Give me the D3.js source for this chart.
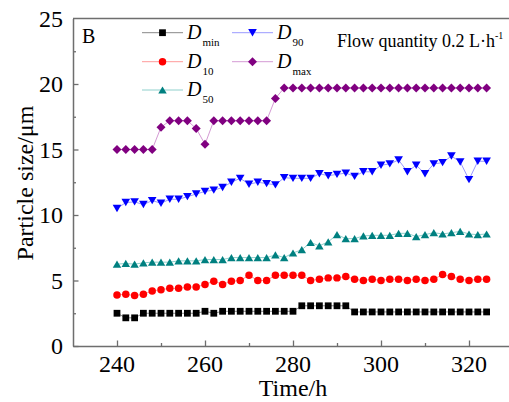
<!DOCTYPE html>
<html>
<head>
<meta charset="utf-8">
<script src="https://cdn.jsdelivr.net/npm/d3@7"></script>
<style>
  body { margin: 0; background: #fff; }
</style>
</head>
<body>
<div class="chart"></div>
<script>
// time in hours
var times = [240, 242, 244, 246, 248, 250, 252, 254, 256, 258, 260, 262, 264, 266, 268,
  270, 272, 274, 276, 278, 280, 282, 284, 286, 288, 290, 292, 294, 296, 298, 300, 302,
  304, 306, 308, 310, 312, 314, 316, 318, 320, 322, 324];

var dMin = [2.5, 2.15, 2.15, 2.5, 2.5, 2.5, 2.5, 2.5, 2.5, 2.5, 2.65, 2.5, 2.65, 2.65, 2.65,
  2.65, 2.65, 2.65, 2.65, 2.65, 2.65, 3.07, 3.07, 3.07, 3.07, 3.07, 3.07, 2.6, 2.6, 2.6,
  2.6, 2.6, 2.6, 2.6, 2.6, 2.6, 2.6, 2.6, 2.6, 2.6, 2.6, 2.6, 2.6];

var d10 = [3.9, 3.95, 3.85, 3.95, 4.2, 4.3, 4.4, 4.4, 4.5, 4.5, 4.7, 4.95, 4.7, 4.95, 5.0,
  5.4, 5.0, 5.0, 5.4, 5.4, 5.4, 5.4, 5.0, 5.1, 5.2, 5.2, 5.3, 5.1, 5.0, 5.1, 5.0, 5.1,
  5.1, 5.0, 5.1, 5.0, 5.1, 5.45, 5.3, 5.1, 5.0, 5.1, 5.1];

var d50 = [6.25, 6.3, 6.25, 6.35, 6.4, 6.4, 6.4, 6.5, 6.5, 6.5, 6.6, 6.6, 6.6, 6.75, 6.75,
  6.75, 6.75, 6.75, 6.95, 6.75, 7.1, 7.35, 7.9, 7.65, 7.95, 8.5, 8.2, 8.2, 8.4, 8.45, 8.45,
  8.45, 8.6, 8.6, 8.35, 8.5, 8.65, 8.55, 8.65, 8.75, 8.55, 8.5, 8.55];

var d90 = [10.5, 10.95, 11.0, 10.8, 11.1, 10.9, 11.2, 11.2, 11.4, 11.6, 11.8, 11.9, 12.1,
  12.5, 12.8, 12.35, 12.5, 12.4, 12.3, 12.85, 12.8, 12.8, 12.8, 13.15, 13.0, 13.1, 13.2,
  12.95, 13.3, 13.3, 13.8, 13.9, 14.2, 13.3, 13.8, 13.15, 13.9, 14.0, 14.5, 14.05, 12.7,
  14.1, 14.1];

var dMax = [15.0, 15.0, 15.0, 15.0, 15.0, 16.7, 17.2, 17.2, 17.2, 16.6, 15.4, 17.2, 17.2,
  17.2, 17.2, 17.2, 17.2, 17.2, 18.9, 19.7, 19.7, 19.7, 19.7, 19.7, 19.7, 19.7, 19.7,
  19.7, 19.7, 19.7, 19.7, 19.7, 19.7, 19.7, 19.7, 19.7, 19.7, 19.7, 19.7, 19.7, 19.7,
  19.7, 19.7];

var xTicks = [240, 260, 280, 300, 320];
var yTicks = [0, 5, 10, 15, 20, 25];

var serif = "Liberation Serif";

// custom marker shapes
var downTriangle = {
  draw: function(ctx, size) {
    var w = Math.sqrt(size) * 1.25, h = w * 0.85;
    ctx.moveTo(-w / 2, -h / 2);
    ctx.lineTo(w / 2, -h / 2);
    ctx.lineTo(0, h / 2);
    ctx.closePath();
  }
};
var upTriangle = {
  draw: function(ctx, size) {
    var w = Math.sqrt(size) * 1.25, h = w * 0.85;
    ctx.moveTo(-w / 2, h / 2);
    ctx.lineTo(w / 2, h / 2);
    ctx.lineTo(0, -h / 2);
    ctx.closePath();
  }
};
var diamond = {
  draw: function(ctx, size) {
    var r = Math.sqrt(size) * 0.62;
    ctx.moveTo(0, -r);
    ctx.lineTo(r, 0);
    ctx.lineTo(0, r);
    ctx.lineTo(-r, 0);
    ctx.closePath();
  }
};

var series = [
  { name: "min", values: dMin, color: "#000000", line: "#888888", shape: d3.symbolSquare, size: 46 },
  { name: "10", values: d10, color: "#ff0000", line: "#ff9a9a", shape: d3.symbolCircle, size: 44 },
  { name: "50", values: d50, color: "#008080", line: "#8fd0cc", shape: upTriangle, size: 46 },
  { name: "90", values: d90, color: "#0000ff", line: "#9a9aff", shape: downTriangle, size: 48 },
  { name: "max", values: dMax, color: "#800080", line: "#d49ad4", shape: diamond, size: 52 }
];

var svgWidth = 509, svgHeight = 402;
var margin = { top: 18.5, right: -4, bottom: 56, left: 73 };

var svg = d3.select(".chart")
  .append("svg")
  .attr("width", svgWidth)
  .attr("height", svgHeight)
  .style("font-family", serif);

var x = d3.scaleLinear()
  .domain([230, 330])
  .range([margin.left, svgWidth - margin.right]);

var y = d3.scaleLinear()
  .domain([0, 25])
  .range([svgHeight - margin.bottom, margin.top]);

var axisColor = "#6e6e6e";

// minor ticks first
svg.append("g")
  .attr("transform", `translate(0, ${y(0)})`)
  .call(d3.axisBottom(x).tickValues([250, 270, 290, 310]).tickSize(-3).tickFormat(""))
  .call(g => g.select(".domain").remove())
  .selectAll("line").attr("stroke", axisColor).attr("stroke-width", 1.3);

svg.append("g")
  .attr("transform", `translate(${x(230)}, 0)`)
  .call(d3.axisLeft(y).tickValues([2.5, 7.5, 12.5, 17.5, 22.5]).tickSize(-3).tickFormat(""))
  .call(g => g.select(".domain").remove())
  .selectAll("line").attr("stroke", axisColor).attr("stroke-width", 1.3);

// major axes (lines only, labels drawn below)
var xAxisG = svg.append("g")
  .attr("transform", `translate(0, ${y(0)})`)
  .call(d3.axisBottom(x).tickValues(xTicks).tickSize(-5.5).tickSizeOuter(0).tickFormat(""));

var yAxisG = svg.append("g")
  .attr("transform", `translate(${x(230)}, 0)`)
  .call(d3.axisLeft(y).tickValues(yTicks.filter(d => d < 25)).tickSize(-5.5).tickSizeOuter(0).tickFormat(""));

[xAxisG, yAxisG].forEach(function(g) {
  g.select(".domain").attr("stroke", axisColor).attr("stroke-width", 1.5);
  g.selectAll(".tick line").attr("stroke", axisColor).attr("stroke-width", 1.3);
});

// tick labels
svg.selectAll(".xlab")
  .data(xTicks)
  .enter()
  .append("text")
  .attr("class", "xlab")
  .attr("x", d => x(d))
  .attr("y", 372)
  .attr("text-anchor", "middle")
  .style("font-size", "24px")
  .text(d => d);

svg.selectAll(".ylab")
  .data(yTicks)
  .enter()
  .append("text")
  .attr("class", "ylab")
  .attr("x", 63)
  .attr("y", d => y(d))
  .attr("dy", "0.34em")
  .attr("text-anchor", "end")
  .style("font-size", "24px")
  .text(d => d);

// top frame line
svg.append("line")
  .attr("x1", x(230)).attr("x2", x(330))
  .attr("y1", y(25)).attr("y2", y(25))
  .attr("stroke", axisColor)
  .attr("stroke-width", 1.5);

// axis titles
svg.append("text")
  .attr("x", x(280))
  .attr("y", 396)
  .attr("text-anchor", "middle")
  .style("font-size", "24px")
  .text("Time/h");

svg.append("text")
  .attr("transform", "rotate(-90)")
  .attr("x", -183)
  .attr("y", 33)
  .attr("text-anchor", "middle")
  .style("font-size", "24px")
  .text("Particle size/μm");

// series: thin pale line with markers
var lineGen = d3.line()
  .x((d, i) => x(times[i]))
  .y(d => y(d));

series.forEach(function(s) {
  svg.append("path")
    .datum(s.values)
    .attr("fill", "none")
    .attr("stroke", s.line)
    .attr("stroke-width", 1)
    .attr("d", lineGen);

  svg.selectAll(".pt-" + s.name)
    .data(s.values)
    .enter()
    .append("path")
    .attr("class", "pt-" + s.name)
    .attr("transform", (d, i) => `translate(${x(times[i])}, ${y(d)})`)
    .attr("fill", s.color)
    .attr("d", d3.symbol().type(s.shape).size(s.size));
});

// panel letter
svg.append("text")
  .attr("x", 82)
  .attr("y", 43)
  .style("font-size", "20px")
  .text("B");

// legend
var legendPos = [
  { name: "min", x: 142, y: 32.7 },
  { name: "10", x: 142, y: 61.7 },
  { name: "50", x: 142, y: 90 },
  { name: "90", x: 232, y: 32.7 },
  { name: "max", x: 232, y: 61.7 }
];

legendPos.forEach(function(p) {
  var s = series.find(d => d.name === p.name);
  var g = svg.append("g").attr("transform", `translate(${p.x}, ${p.y})`);
  g.append("line")
    .attr("x1", 0).attr("x2", 41)
    .attr("stroke", s.line)
    .attr("stroke-width", 1);
  g.append("path")
    .attr("transform", "translate(20.5, 0)")
    .attr("fill", s.color)
    .attr("d", d3.symbol().type(s.shape).size(s.size));
  var t = g.append("text")
    .attr("x", 45)
    .attr("y", 5.8)
    .style("font-size", "20px");
  t.append("tspan").style("font-style", "italic").text("D");
  t.append("tspan")
    .attr("dx", 1)
    .attr("dy", 7.5)
    .style("font-size", "11px")
    .text(s.name);
});

// flow note
var note = svg.append("text")
  .attr("x", 337)
  .attr("y", 46.7)
  .style("font-size", "18px");
note.append("tspan").text("Flow quantity 0.2 L·h");
note.append("tspan")
  .attr("dy", -8)
  .style("font-size", "10px")
  .text("-1");
</script>
</body>
</html>
